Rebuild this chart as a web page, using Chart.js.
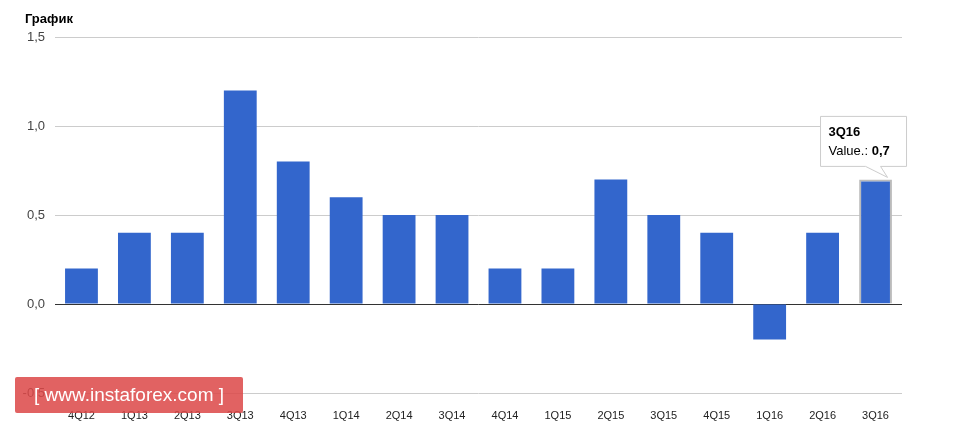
<!DOCTYPE html>
<html><head><meta charset="utf-8">
<script src="https://cdn.jsdelivr.net/npm/chart.js@4"></script>
<style>
body{margin:0;background:#fff;font-family:Arial,"Liberation Sans",sans-serif}
#wrap{position:relative;width:972px;height:427px}
#title{position:absolute;left:25px;top:11px;font-weight:bold;font-size:13px;color:#000}
#wm{position:absolute;left:15px;top:377px;width:228px;height:36px;background:rgba(220,70,70,0.85);color:#fff;font-size:19px;line-height:36px;text-align:center;border-radius:2px}
</style></head><body>
<div id="wrap"><canvas id="c" width="972" height="427"></canvas>
<div id="title">График</div>
<div id="wm">[ www.instaforex.com ]</div></div>
<script>
const quarters = ['4Q12','1Q13','2Q13','3Q13','4Q13','1Q14','2Q14','3Q14','4Q14','1Q15','2Q15','3Q15','4Q15','1Q16','2Q16','3Q16'];
const values = [0.2,0.4,0.4,1.2,0.8,0.6,0.5,0.5,0.2,0.2,0.7,0.5,0.4,-0.2,0.4,0.7];
const yTicks = [-0.5,0,0.5,1.0,1.5];
const highlight = 15;

const tipPlugin = {
  id:'tip',
  afterDraw(chart){
    const c = chart.ctx, x = chart.scales.x, y = chart.scales.y;
    const bx = x.getPixelForValue(highlight), by = y.getPixelForValue(values[highlight]);
    const l = bx - 55, t = by - 63, w = 86, h = 50;
    c.save();
    c.fillStyle='#fff'; c.strokeStyle='#ccc'; c.lineWidth=1;
    c.beginPath();
    c.moveTo(l,t); c.lineTo(l+w,t); c.lineTo(l+w,t+h); c.lineTo(l+60,t+h);
    c.lineTo(bx+12,by-2); c.lineTo(l+45,t+h); c.lineTo(l,t+h); c.closePath();
    c.fill(); c.stroke();
    c.fillStyle='#000'; c.font='bold 13px Arial'; c.textBaseline='middle';
    c.fillText(quarters[highlight], l+8, t+16);
    c.font='13px Arial'; c.fillText('Value.: ', l+8, t+35);
    const vw = c.measureText('Value.: ').width;
    c.font='bold 13px Arial'; c.fillText(String(values[highlight]).replace('.',','), l+8+vw, t+35);
    c.restore();
  }
};

new Chart(document.getElementById('c'), {
  type:'bar',
  data:{labels:quarters, datasets:[{
    data:values,
    backgroundColor:'#3366cc',
    borderColor:values.map((v,i)=> i===highlight ? '#bbbbbb' : '#3366cc'),
    borderWidth:values.map((v,i)=> i===highlight ? 2 : 0),
    categoryPercentage:1, barPercentage:0.62
  }]},
  options:{
    responsive:false, animation:false,
    layout:{padding:{left:0,right:70,top:37,bottom:0}},
    plugins:{legend:{display:false},tooltip:{enabled:false}},
    scales:{
      x:{grid:{display:false},border:{display:false},
         ticks:{color:'#222',font:{size:11,family:'Arial'},padding:8,maxRotation:0},
         afterFit(s){s.height=34;}},
      y:{min:-0.5,max:1.5,
         afterBuildTicks(s){s.ticks=yTicks.map(v=>({value:v}));},
         afterFit(s){s.width=55;},
         border:{display:false},
         grid:{color:ctx=>ctx.tick.value===0?'#333':'#ccc',drawTicks:false},
         ticks:{color:'#444',font:{size:13,family:'Arial'},padding:10,
           callback:v=>v.toFixed(1).replace('.',',')}}
    }
  },
  plugins:[tipPlugin]
});
</script></body></html>
